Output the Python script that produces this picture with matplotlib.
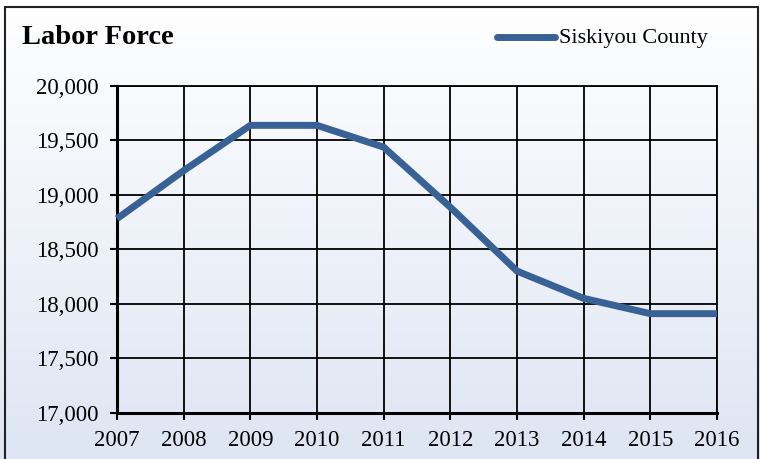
import matplotlib
matplotlib.use("Agg")
import matplotlib.pyplot as plt
import numpy as np
from matplotlib.patches import Rectangle
from matplotlib.lines import Line2D
from matplotlib.ticker import FuncFormatter

years = [2007, 2008, 2009, 2010, 2011, 2012, 2013, 2014, 2015, 2016]
labor_force = [18780, 19220, 19635, 19635, 19435, 18885, 18300, 18050, 17910, 17910]
series_name = "Siskiyou County"
title = "Labor Force"

LINE = "#386196"
SERIF = "Liberation Serif"

fig = plt.figure(figsize=(7.6, 4.59), dpi=100)

# background gradient: white at top to pale blue at bottom
bg = fig.add_axes([0, 0, 1, 1], zorder=-2)
grad = np.linspace(0, 1, 256).reshape(-1, 1)
top = np.array([1.0, 1.0, 1.0])
bot = np.array([222, 229, 243]) / 255
img = top + (bot - top) * grad[:, :, None]
bg.imshow(img, aspect="auto", extent=[0, 1, 0, 1])
bg.axis("off")

# outer border
fig.add_artist(Rectangle((5 / 760, -0.01), 753 / 760, 1 - 7 / 459 + 0.01,
                         transform=fig.transFigure, fill=False,
                         edgecolor="#222222", linewidth=1.5))

ax = fig.add_axes([117 / 760, 1 - 413 / 459, 600 / 760, (413 - 85.5) / 459])
ax.patch.set_alpha(0)
ax.plot(years, labor_force, color=LINE, linewidth=5, solid_capstyle="butt",
        solid_joinstyle="miter", zorder=3, clip_on=False)

ax.set_xlim(2007, 2016)
ax.set_ylim(17000, 20000)
ax.set_xticks(years)
ax.set_yticks(range(17000, 20001, 500))
ax.yaxis.set_major_formatter(FuncFormatter(lambda v, p: f"{int(v):,}"))
ax.grid(True, color="black", linewidth=1.3)
ax.set_axisbelow(True)

for s in ["top", "right"]:
    ax.spines[s].set_linewidth(1.3)
for s in ["left", "bottom"]:
    ax.spines[s].set_linewidth(2.2)
ax.tick_params(direction="out", length=5, width=1.5, labelsize=16.5)
ax.tick_params(axis="y", pad=8)
ax.tick_params(axis="x", pad=7)
for lab in ax.get_xticklabels() + ax.get_yticklabels():
    lab.set_fontfamily(SERIF)

fig.text(22 / 760, 1 - 37 / 459, title, fontfamily=SERIF, fontweight="bold",
         fontsize=20.5, ha="left", va="center")

# legend
fig.add_artist(Line2D([497 / 760, 555 / 760], [1 - 37 / 459] * 2,
                      transform=fig.transFigure, color=LINE, linewidth=5,
                      solid_capstyle="round"))
fig.text(559 / 760, 1 - 38 / 459, series_name, fontfamily=SERIF,
         fontsize=16, ha="left", va="center")

fig.savefig("out.png", dpi=100)
